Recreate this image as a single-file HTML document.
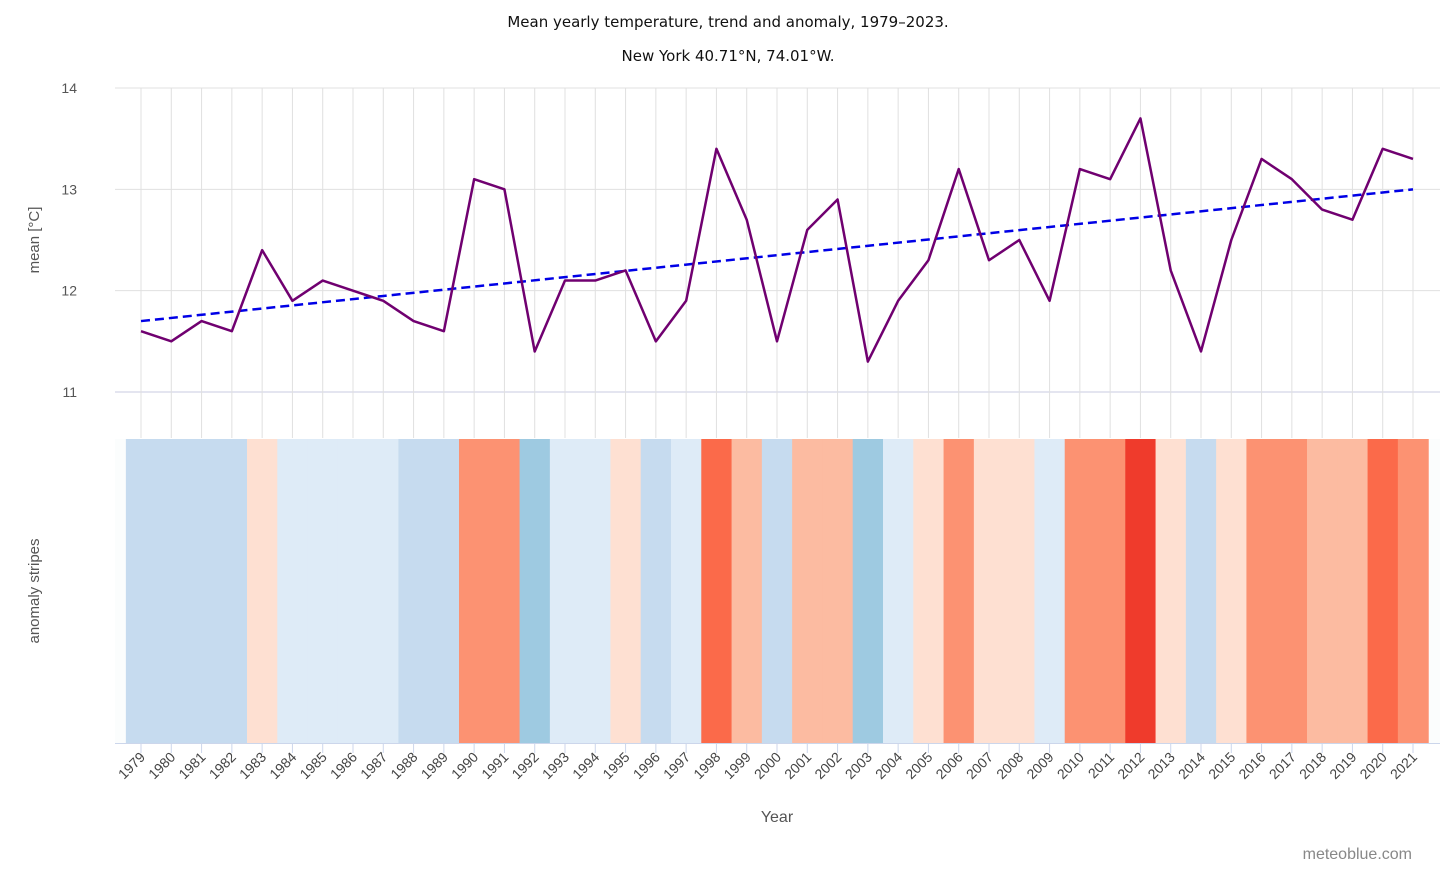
<!DOCTYPE html>
<html><head><meta charset="utf-8">
<style>
html,body{margin:0;padding:0;background:#fff;}
svg{display:block;font-family:"Liberation Sans","DejaVu Sans",sans-serif;}
</style></head>
<body>
<svg id="chart" width="1456" height="874" viewBox="0 0 1456 874" xmlns="http://www.w3.org/2000/svg">
<text x="728" y="27" text-anchor="middle" font-size="15" font-family="DejaVu Sans, sans-serif" fill="#111">Mean yearly temperature, trend and anomaly, 1979–2023.</text>
<text x="728" y="61" text-anchor="middle" font-size="15" font-family="DejaVu Sans, sans-serif" fill="#111">New York 40.71°N, 74.01°W.</text>
<text transform="translate(39,240) rotate(-90)" text-anchor="middle" font-size="15" fill="#555">mean [°C]</text>
<text transform="translate(39,591) rotate(-90)" text-anchor="middle" font-size="15" fill="#555">anomaly stripes</text>
<text x="777" y="822" text-anchor="middle" font-size="16" fill="#555">Year</text>
<text x="1412" y="859" text-anchor="end" font-size="16" fill="#888">meteoblue.com</text>
<g id="grid"></g>
<g id="stripes"></g>
<g id="lines"></g>
<g id="xaxis"></g>
</svg>
<script>
const years = [1979,1980,1981,1982,1983,1984,1985,1986,1987,1988,1989,1990,1991,1992,1993,1994,1995,1996,1997,1998,1999,2000,2001,2002,2003,2004,2005,2006,2007,2008,2009,2010,2011,2012,2013,2014,2015,2016,2017,2018,2019,2020,2021];
const meanTemp = [11.6,11.5,11.7,11.6,12.4,11.9,12.1,12.0,11.9,11.7,11.6,13.1,13.0,11.4,12.1,12.1,12.2,11.5,11.9,13.4,12.7,11.5,12.6,12.9,11.3,11.9,12.3,13.2,12.3,12.5,11.9,13.2,13.1,13.7,12.2,11.4,12.5,13.3,13.1,12.8,12.7,13.4,13.3];
const trendEnds = [11.7,13.0];
const anomalyClass = [-2,-2,-2,-2,1,-1,-1,-1,-1,-2,-2,3,3,-3,-1,-1,1,-2,-1,4,2,-2,2,2,-3,-1,1,3,1,1,-1,3,3,5,1,-2,1,3,3,2,2,4,3];
const yTicks = [11,12,13,14];
const colorMap = {"-3":"#9ecae1","-2":"#c6dbef","-1":"#deebf7","1":"#fee0d2","2":"#fcbba1","3":"#fc9272","4":"#fb6a4a","5":"#ef3b2c"};
const NS="http://www.w3.org/2000/svg";
const x0=141, x1=1413;
const xs = y => x0 + (y-years[0])*(x1-x0)/(years[years.length-1]-years[0]);
const ys = v => 392 - (v-11)*(392-88)/3;
const step=(x1-x0)/(years.length-1);
function mk(tag,attrs,parent){const e=document.createElementNS(NS,tag);for(const k in attrs)e.setAttribute(k,attrs[k]);parent.appendChild(e);return e;}
const grid=document.getElementById('grid'), st=document.getElementById('stripes'), ln=document.getElementById('lines'), xa=document.getElementById('xaxis');
yTicks.forEach(t=>{
  const l=mk('line',{x1:115,x2:1440,y1:ys(t),y2:ys(t),stroke:t===11?'#c8cbe0':'#e0e0e0','stroke-width':1},grid);
  
  
  const tx=mk('text',{x:77,y:ys(t)+5,'text-anchor':'end','font-size':14,fill:'#555'},grid);
  tx.textContent=t;
  
  
});
years.forEach(y=>{
  const l=mk('line',{x1:xs(y),x2:xs(y),y1:88,y2:438,stroke:'#e0e0e0','stroke-width':1},grid);
  
  
});
[500,561,622,683].forEach(yy=>{mk('line',{x1:115,x2:1440,y1:yy,y2:yy,stroke:'#eef0f0'},grid);});
mk('rect',{x:115,y:439,width:1325,height:304,fill:'#fbfdfd'},grid);
years.forEach((y,i)=>{
  const r=mk('rect',{x:xs(y)-step/2,y:439,width:step+0.6,height:304,fill:colorMap[anomalyClass[i]]},st);
  
  
});
const trend=mk('line',{x1:xs(years[0]),y1:ys(trendEnds[0]),x2:xs(years[years.length-1]),y2:ys(trendEnds[1]),stroke:'#0000e6','stroke-width':2.5,'stroke-dasharray':'9,5'},ln);


const p=mk('path',{d:years.map((y,i)=>(i?'L':'M')+xs(y)+','+ys(meanTemp[i])).join(''),fill:'none',stroke:'#700070','stroke-width':2.5,'stroke-linejoin':'round'},ln);


mk('line',{x1:115,x2:1440,y1:743.5,y2:743.5,stroke:'#ccd6eb'},xa);
years.forEach(y=>{
  mk('line',{x1:xs(y),x2:xs(y),y1:743,y2:753,stroke:'#ccd6eb'},xa);
  const t=mk('text',{transform:`translate(${xs(y)+5},${758}) rotate(-45)`,'text-anchor':'end','font-size':14,fill:'#444'},xa);
  t.textContent=y;
  
  
});
</script>
</body></html>
